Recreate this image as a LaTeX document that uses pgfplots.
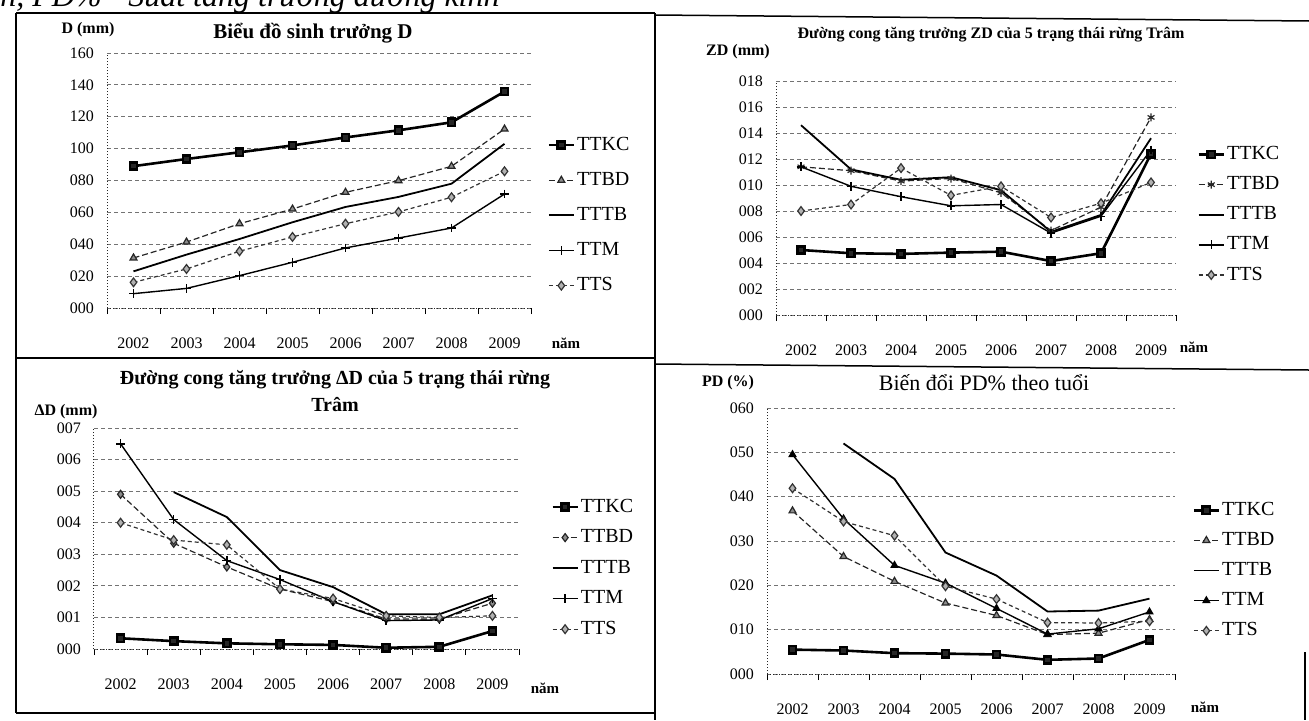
\documentclass[border=0pt]{standalone}
\usepackage{fontspec}
\setmainfont{Liberation Serif}
\usepackage{pgfplots}
\pgfplotsset{compat=1.18}

\pgfplotsset{
 panel/.style={
  scale only axis, axis x line*=bottom, axis y line*=left,
  axis line style={black!85, densely dotted, line width=0.5pt},
  xmin=-0.5, xmax=7.5,
  xtick={0,1,...,7},
  xticklabels={2002,2003,2004,2005,2006,2007,2008,2009},
  minor xtick={-0.5,0.5,...,7.5},
  tick align=outside, major tick length=0pt, minor tick length=3pt,
  tick style={black, line width=0.4pt},
  ymajorgrids, major grid style={black!55, dash pattern=on 2pt off 1.5pt, line width=0.45pt},
  tick label style={font=\fontsize{8}{9}\selectfont},
  xticklabel style={yshift=-11.5pt},
  yticklabel style={xshift=-3pt},
  legend cell align=left,
  legend style={draw=none, fill=none, font=\fontsize{10}{11}\selectfont, inner sep=0pt, anchor=north west, nodes={inner sep=1pt}},
  legend image code/.code={\draw[mark repeat=2,mark phase=2,##1] plot coordinates {(0cm,0cm) (0.22cm,0cm) (0.44cm,0cm)};},
 },
 skc/.style={black, line width=1.3pt, mark=square*, mark size=1.8pt, mark options={solid, fill=black!85}},
 sbd/.style={black!85, line width=0.6pt, dash pattern=on 3pt off 1.5pt, mark=triangle*, mark size=2pt, mark options={solid, fill=black!45}},
 stb/.style={black, line width=0.9pt, mark=none},
 stm/.style={black, line width=0.7pt, mark=+, mark size=2.2pt, mark options={solid}},
 sts/.style={black!80, line width=0.6pt, dash pattern=on 2pt off 1.5pt, mark=diamond*, mark size=2.2pt, mark options={solid, fill=black!30}},
}

\begin{document}
\begin{tikzpicture}
\useasboundingbox (0,0) rectangle (654.5pt,360pt);

% ---------- Chart 1 ----------
\begin{axis}[panel, at={(53.5pt,206pt)}, anchor=south west, width=212pt, height=127.5pt,
  ymin=0, ymax=160, ytick={0,20,...,160},
  yticklabels={000,020,040,060,080,100,120,140,160},
  legend style={at={(1.038,0.68)}, row sep=7.5pt}]
\addplot[skc] coordinates {(0,89) (1,93.5) (2,97.7) (3,102) (4,107) (5,111.5) (6,116.5) (7,135.8)};
\addplot[sbd] coordinates {(0,31.4) (1,41.4) (2,52.9) (3,62.1) (4,72.6) (5,79.9) (6,88.9) (7,112.3)};
\addplot[stb] coordinates {(0,23) (1,33.5) (2,43.3) (3,53.8) (4,63.4) (5,69.7) (6,78) (7,103)};
\addplot[stm] coordinates {(0,9) (1,12.3) (2,20.3) (3,28.7) (4,37.7) (5,43.9) (6,50.2) (7,71.5)};
\addplot[sts] coordinates {(0,16.1) (1,24.5) (2,35.6) (3,44.6) (4,52.9) (5,60.3) (6,69.5) (7,85.8)};
\legend{TTKC,TTBD,TTTB,TTM,TTS}
\end{axis}

% ---------- Chart 2 ----------
\begin{axis}[panel, at={(388pt,202.5pt)}, anchor=south west, width=200pt, height=117pt,
  ymin=0, ymax=18, ytick={0,2,...,18},
  yticklabels={000,002,004,006,008,010,012,014,016,018},
  legend style={at={(1.0525,0.731)}, row sep=5pt}]
\addplot[skc] coordinates {(0,5.0) (1,4.75) (2,4.7) (3,4.8) (4,4.87) (5,4.15) (6,4.75) (7,12.4)};
\addplot[sbd, mark=asterisk] coordinates {(0,11.4) (1,11.1) (2,10.3) (3,10.5) (4,9.4) (5,6.5) (6,8.3) (7,15.2)};
\addplot[stb] coordinates {(0,14.6) (1,11.2) (2,10.4) (3,10.6) (4,9.6) (5,6.4) (6,7.7) (7,13.6)};
\addplot[stm] coordinates {(0,11.4) (1,9.9) (2,9.1) (3,8.4) (4,8.5) (5,6.3) (6,7.6) (7,12.7)};
\addplot[sts] coordinates {(0,8.0) (1,8.5) (2,11.3) (3,9.2) (4,9.9) (5,7.5) (6,8.6) (7,10.2)};
\legend{TTKC,TTBD,TTTB,TTM,TTS}
\end{axis}

% ---------- Chart 3 ----------
\begin{axis}[panel, at={(47pt,35.5pt)}, anchor=south west, width=212.5pt, height=110.5pt,
  ymin=0, ymax=7, ytick={0,1,...,7},
  yticklabels={000,001,002,003,004,005,006,007},
  legend style={at={(1.075,0.69)}, row sep=5.2pt}]
\addplot[skc] coordinates {(0,0.34) (1,0.25) (2,0.18) (3,0.15) (4,0.13) (5,0.04) (6,0.07) (7,0.57)};
\addplot[sbd, mark=diamond*] coordinates {(0,4.9) (1,3.35) (2,2.6) (3,1.9) (4,1.5) (5,0.95) (6,0.95) (7,1.45)};
\addplot[stb] coordinates {(1,4.97) (2,4.18) (3,2.5) (4,1.96) (5,1.1) (6,1.1) (7,1.7)};
\addplot[stm] coordinates {(0,6.5) (1,4.1) (2,2.8) (3,2.2) (4,1.5) (5,0.9) (6,0.92) (7,1.6)};
\addplot[sts] coordinates {(0,4.0) (1,3.45) (2,3.3) (3,1.9) (4,1.6) (5,1.05) (6,1.0) (7,1.05)};
\legend{TTKC,TTBD,TTTB,TTM,TTS}
\end{axis}

% ---------- Chart 4 ----------
\begin{axis}[panel, at={(383.5pt,23pt)}, anchor=south west, width=204pt, height=133pt,
  ymin=0, ymax=60, ytick={0,10,...,60},
  yticklabels={000,010,020,030,040,050,060},
  legend style={at={(1.042,0.655)}, row sep=5pt}]
\addplot[skc] coordinates {(0,5.5) (1,5.3) (2,4.7) (3,4.6) (4,4.4) (5,3.2) (6,3.5) (7,7.7)};
\addplot[sbd] coordinates {(0,36.8) (1,26.5) (2,20.9) (3,16.0) (4,13.2) (5,8.9) (6,9.2) (7,12.3)};
\addplot[stb] coordinates {(1,52) (2,44) (3,27.4) (4,22.2) (5,14.1) (6,14.3) (7,17)};
\addplot[stm, mark=triangle*, mark size=1.8pt] coordinates {(0,49.5) (1,35) (2,24.5) (3,20.5) (4,14.8) (5,9.0) (6,10.2) (7,14.0)};
\addplot[sts] coordinates {(0,41.9) (1,34.4) (2,31.2) (3,19.8) (4,16.9) (5,11.6) (6,11.5) (7,11.9)};
\legend{TTKC,TTBD,TTTB,TTM,TTS}
\end{axis}

% ---------- texts and frames (pixel coordinates) ----------
\begin{scope}[x=0.5pt, y=-0.5pt, shift={(0pt,360pt)}]
\node[anchor=base east, font=\itshape\fontsize{16}{18}\selectfont, inner sep=0pt] at (500,6) {Hình, PD\% - Suất tăng trưởng đường kính};

\draw[black, line width=0.75pt] (16,13)--(655,13);
\draw[black, line width=0.75pt] (655,15)--(1309,21);
\draw[black, line width=0.75pt] (16,13)--(16,713);
\draw[black, line width=0.75pt] (655,13)--(655,720);
\draw[black, line width=0.75pt] (16,358)--(655,358);
\draw[black, line width=0.75pt] (655,364)--(1309,370);
\draw[black, line width=0.75pt] (16,713)--(655,713);
\draw[black, line width=0.75pt] (1305,652)--(1305,720);

% chart 1
\node[font=\bfseries\fontsize{8}{9}\selectfont] at (88,30) {D (mm)};
\node[font=\bfseries\fontsize{10.5}{12}\selectfont] at (313,33) {Biểu đồ sinh trưởng D};
\node[font=\bfseries\fontsize{7.5}{9}\selectfont] at (566,343) {năm};
% chart 2
\node[font=\bfseries\fontsize{8}{9}\selectfont] at (991,35) {Đường cong tăng trưởng ZD của 5 trạng thái rừng Trâm};
\node[font=\bfseries\fontsize{8}{9}\selectfont] at (738,52) {ZD (mm)};
\node[font=\bfseries\fontsize{7.5}{9}\selectfont] at (1194,347) {năm};
% chart 3
\node[font=\bfseries\fontsize{10}{12}\selectfont] at (335,380) {Đường cong tăng trưởng ΔD của 5 trạng thái rừng};
\node[font=\bfseries\fontsize{10}{12}\selectfont] at (335,405) {Trâm};
\node[font=\bfseries\fontsize{8}{9}\selectfont] at (66,412) {ΔD (mm)};
\node[font=\bfseries\fontsize{7.5}{9}\selectfont] at (545,688) {năm};
% chart 4
\node[font=\fontsize{11}{13}\selectfont] at (984,383) {Biến đổi PD\% theo tuổi};
\node[font=\bfseries\fontsize{8}{9}\selectfont] at (728,383) {PD (\%)};
\node[font=\bfseries\fontsize{7.5}{9}\selectfont] at (1205,707) {năm};
\end{scope}
\end{tikzpicture}
\end{document}
